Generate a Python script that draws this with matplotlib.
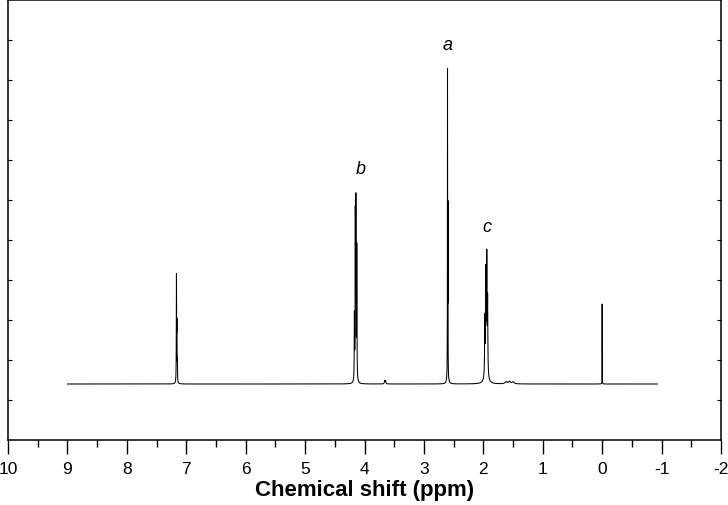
import matplotlib.pyplot as plt
import numpy as np

plt.rcParams['font.family'] = ['Liberation Sans', 'DejaVu Sans']
plt.rcParams['axes.unicode_minus'] = False

# peak list (ppm, height above baseline, half width)
peak_ppm = [7.165, 7.158, 7.150,
            4.170, 4.155, 4.145, 4.130,
            3.660, 3.645,
            2.603, 2.596, 2.600,
            1.975, 1.958, 1.942, 1.928, 1.950,
            1.62, 1.56, 1.50,
            0.0]
peak_height = [2.6, 1.3, 0.5,
               1.6, 4.0, 4.3, 3.3,
               0.08, 0.08,
               7.45, 4.0, 0.3,
               1.4, 2.3, 2.65, 1.8, 0.5,
               0.05, 0.06, 0.05,
               2.0]
peak_width = [0.0025, 0.0025, 0.0025,
              0.003, 0.003, 0.003, 0.003,
              0.006, 0.006,
              0.0015, 0.0015, 0.01,
              0.004, 0.004, 0.004, 0.004, 0.02,
              0.02, 0.02, 0.02,
              0.001]
baseline = 1.4
ppm_start, ppm_end = 9.0, -0.93

peak_labels = ['a', 'b', 'c']
label_ppm = [2.60, 4.06, 1.94]
label_y = [9.9, 6.78, 5.33]

x = np.linspace(ppm_start, ppm_end, 40000)
y = np.full_like(x, baseline)
for p, h, w in zip(peak_ppm, peak_height, peak_width):
    y += h * w**2 / ((x - p)**2 + w**2)

fig = plt.figure(figsize=(7.28, 5.06), dpi=100)
ax = fig.add_axes([8/728, 1-441/506, 713/728, 440/506])
ax.plot(x, y, color='black', lw=0.75)

for t, px, py in zip(peak_labels, label_ppm, label_y):
    ax.text(px, py, t, fontsize=13, style='italic', ha='center', va='center')

ax.set_xlim(10, -2)
ax.set_ylim(0, 11)
ax.set_xticks(np.arange(10, -3, -1))
ax.set_xticklabels([str(v) for v in range(10, -3, -1)])
ax.set_xticks(np.arange(9.5, -2, -1), minor=True)
ax.set_yticks(np.arange(1, 11))
ax.set_yticklabels([])
ax.tick_params(axis='x', which='major', direction='out', length=10, width=1, labelsize=12.5, pad=5)
ax.tick_params(axis='x', which='minor', direction='out', length=5, width=1)
ax.tick_params(axis='y', direction='in', length=3, width=0.8, left=True, right=True)
for s in ax.spines.values():
    s.set_linewidth(1.1)
ax.set_xlabel('Chemical shift (ppm)', fontsize=16, fontweight='bold', labelpad=2)

plt.savefig('out.png', dpi=100)
